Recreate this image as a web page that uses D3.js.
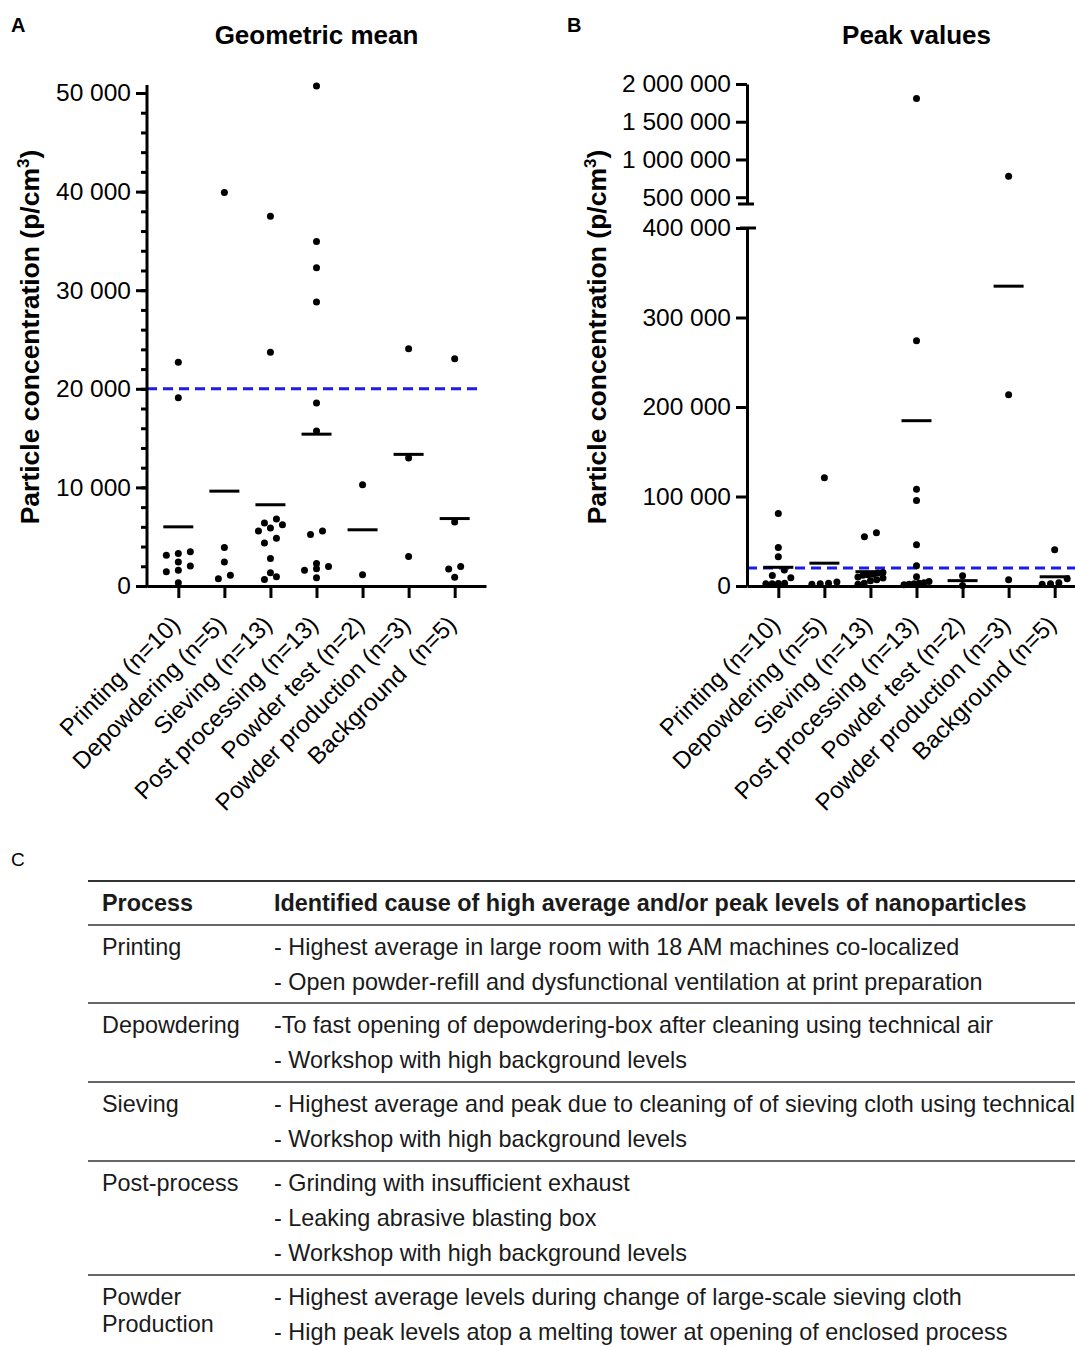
<!DOCTYPE html>
<html>
<head>
<meta charset="utf-8">
<script src="https://cdn.jsdelivr.net/npm/d3@7"></script>
<style>
body { margin: 0; background: #fff; }
text { font-family: "Liberation Sans", Arial, sans-serif; }
</style>
</head>
<body>
<div id="chart"></div>
<script>
// categories
const catsA = ["Printing (n=10)", "Depowdering (n=5)", "Sieving (n=13)", "Post processing (n=13)",
  "Powder test (n=2)", "Powder production (n=3)", "Background  (n=5)"]
const catsB = ["Printing (n=10)", "Depowdering (n=5)", "Sieving (n=13)", "Post processing (n=13)",
  "Powder test (n=2)", "Powder production (n=3)", "Background (n=5)"]

// panel A: geometric mean per measurement (p/cm3)
const geoValues = [
  [22700, 19100, 3480, 3300, 3130, 2440, 2030, 1590, 1450, 320],
  [39900, 3910, 2440, 1100, 730],
  [37500, 23700, 6800, 6390, 6220, 5870, 5570, 4850, 4360, 2790, 1350, 930, 660],
  [50700, 34950, 32270, 28810, 18560, 15720, 5570, 5220, 2270, 1970, 1760, 1590, 830],
  [10260, 1150],
  [24050, 12970, 2990],
  [23050, 6490, 1970, 1720, 900]
]
const geoMeans = [6000, 9620, 8240, 15400, 5700, 13350, 6840]

// panel B: peak values per measurement (p/cm3)
const peakValues = [
  [80900, 43100, 32600, 17900, 11800, 9200, 3000, 2800, 2600, 2400],
  [120900, 4500, 3000, 2500, 2000],
  [59400, 54900, 15000, 14500, 13000, 12500, 12000, 10000, 9000, 7000, 6000, 3000, 2000],
  [1808000, 273900, 108000, 95600, 46100, 22500, 10300, 5000, 3500, 3000, 2500, 2000, 1500],
  [11500, 500],
  [778000, 213700, 6900],
  [40600, 8000, 3500, 2500, 2000]
]
const peakMeans = [20900, 25500, 16000, 184700, 6000, 335000, 10300]

const limitValue = 20000

const ticksA = [0, 10000, 20000, 30000, 40000, 50000]
const ticksBLow = [0, 100000, 200000, 300000, 400000]
const ticksBHigh = [500000, 1000000, 1500000, 2000000]

// table
const tableHead = ["Process", "Identified cause of high average and/or peak levels of nanoparticles"]
const tableProcess = [["Printing"], ["Depowdering"], ["Sieving"], ["Post-process"], ["Powder", "Production"]]
const tableCauses = [
  ["- Highest average in large room with 18 AM machines co-localized",
   "- Open powder-refill and dysfunctional ventilation at print preparation"],
  ["-To fast opening of depowdering-box after cleaning using technical air",
   "- Workshop with high background levels"],
  ["- Highest average and peak due to cleaning of of sieving cloth using technical air",
   "- Workshop with high background levels"],
  ["- Grinding with insufficient exhaust",
   "- Leaking abrasive blasting box",
   "- Workshop with high background levels"],
  ["- Highest average levels during change of large-scale sieving cloth",
   "- High peak levels atop a melting tower at opening of enclosed process"]
]

const w = 1075
const h = 1346

const svg = d3.select("#chart")
  .append("svg")
  .attr("width", w)
  .attr("height", h)

const fmt = d3.formatLocale({decimal: ".", thousands: " ", grouping: [3], currency: ["", ""]}).format(",")
const blue = "#1c1ce8"
const tickFont = 24.5

// simple GraphPad-like scatter layout: group dots that sit on one row and spread them
const swarm = (vals, yFn) => {
  const pts = vals.map((v) => ({v: v, y: yFn(v)})).sort((a, b) => b.y - a.y)
  const rows = []
  pts.forEach((p) => {
    const last = rows[rows.length - 1]
    if (last && last[0].y - p.y < 6.6) last.push(p)
    else rows.push([p])
  })
  rows.forEach((r) => {
    const sp = r.length > 1 ? Math.min(12, 25 / (r.length - 1)) : 0
    r.forEach((p, i) => { p.dx = (i - (r.length - 1) / 2) * sp })
  })
  return pts
}

const styleAxis = (g, width) => {
  g.selectAll(".domain").attr("stroke-width", 3)
  g.selectAll(".tick line").attr("stroke-width", width || 3)
  g.selectAll(".tick text").attr("font-size", tickFont).attr("fill", "#000")
}

const drawPanel = (opt) => {
  const g = svg.append("g")
  const x = d3.scalePoint().domain(opt.cats).range([opt.x0, opt.x1]).padding(0.68)

  // x axis
  const gx = g.append("g")
    .attr("transform", `translate(0,${opt.base})`)
    .call(d3.axisBottom(x).tickSize(12).tickSizeOuter(0).tickFormat(""))
  styleAxis(gx)

  g.selectAll(".catlab")
    .data(opt.cats)
    .enter()
    .append("text")
    .attr("class", "catlab")
    .attr("transform", (d) => `translate(${x(d) + 3},${opt.base + 40}) rotate(-45)`)
    .attr("text-anchor", "end")
    .attr("font-size", 24)
    .style("white-space", "pre")
    .text((d) => d)

  // limit line
  g.append("line")
    .attr("x1", opt.x0).attr("x2", opt.dashEnd)
    .attr("y1", opt.yFn(limitValue)).attr("y2", opt.yFn(limitValue))
    .attr("stroke", blue).attr("stroke-width", 3).attr("stroke-dasharray", "10,6")

  // dots + mean lines
  opt.values.forEach((vals, i) => {
    const cx = x(opt.cats[i])
    g.selectAll(null)
      .data(swarm(vals, opt.yFn))
      .enter()
      .append("circle")
      .attr("cx", (d) => cx + d.dx)
      .attr("cy", (d) => d.y)
      .attr("r", 3.5)
      .attr("fill", "#000")
    g.append("line")
      .attr("x1", cx - 15).attr("x2", cx + 15)
      .attr("y1", opt.yFn(opt.means[i])).attr("y2", opt.yFn(opt.means[i]))
      .attr("stroke", "#000").attr("stroke-width", 3)
  })

  // titles
  g.append("text")
    .attr("x", (opt.x0 + opt.x1) / 2).attr("y", 44)
    .attr("text-anchor", "middle")
    .attr("font-size", 26).attr("font-weight", "bold")
    .text(opt.title)

  const yt = g.append("text")
    .attr("transform", `translate(${opt.titleX},337) rotate(-90)`)
    .attr("text-anchor", "middle")
    .attr("font-size", 26.5).attr("font-weight", "bold")
  yt.append("tspan").text("Particle concentration (p/cm")
  yt.append("tspan").attr("dy", -10).attr("font-size", 17).text("3")
  yt.append("tspan").attr("dy", 10).text(")")

  g.append("text")
    .attr("x", opt.letterX).attr("y", 32)
    .attr("font-size", 20).attr("font-weight", "bold")
    .text(opt.letter)
  return g
}

// ----- panel A -----
const yA = d3.scaleLinear().domain([0, 50000]).range([586, 93])
const gA = drawPanel({
  cats: catsA, x0: 147, x1: 486, base: 586, dashEnd: 480,
  yFn: yA, values: geoValues, means: geoMeans,
  title: "Geometric mean", titleX: 39, letter: "A", letterX: 11
})
const gAminor = gA.append("g").attr("transform", "translate(147,0)")
  .call(d3.axisLeft(yA).tickValues(d3.range(0, 50001, 2000)).tickSize(6).tickFormat(""))
gAminor.select(".domain").remove()
styleAxis(gAminor, 3)
const gAy = gA.append("g").attr("transform", "translate(147,0)")
  .call(d3.axisLeft(yA).tickValues(ticksA).tickSize(11).tickSizeOuter(0).tickPadding(5).tickFormat(fmt))
gAy.select(".domain").remove()
styleAxis(gAy)
gA.append("line")
  .attr("x1", 147).attr("x2", 147)
  .attr("y1", yA(0) + 1.5).attr("y2", yA(50800))
  .attr("stroke", "#000").attr("stroke-width", 3)

// ----- panel B (broken axis) -----
const yBLow = d3.scaleLinear().domain([0, 400000]).range([586, 228])
const yBHigh = d3.scaleLinear().domain([410000, 2000000]).range([204, 84])
const yB = (v) => v > 400000 ? yBHigh(v) : yBLow(v)
const gB = drawPanel({
  cats: catsB, x0: 747, x1: 1086, base: 586, dashEnd: 1086,
  yFn: yB, values: peakValues, means: peakMeans,
  title: "Peak values", titleX: 606, letter: "B", letterX: 567
})
const gBlow = gB.append("g").attr("transform", "translate(747,0)")
  .call(d3.axisLeft(yBLow).tickValues(ticksBLow).tickSize(11).tickSizeOuter(0).tickPadding(5).tickFormat(fmt))
styleAxis(gBlow)
const gBhigh = gB.append("g").attr("transform", "translate(747,0)")
  .call(d3.axisLeft(yBHigh).tickValues(ticksBHigh).tickSize(11).tickSizeOuter(0).tickPadding(5).tickFormat(fmt))
styleAxis(gBhigh)
// break caps
gB.append("line").attr("x1", 740).attr("x2", 756)
  .attr("y1", yBLow(400000)).attr("y2", yBLow(400000))
  .attr("stroke", "#000").attr("stroke-width", 3)
gB.append("line").attr("x1", 738).attr("x2", 754)
  .attr("y1", yBHigh(410000)).attr("y2", yBHigh(410000))
  .attr("stroke", "#000").attr("stroke-width", 3)

// ----- panel C table -----
const gC = svg.append("g")
gC.append("text").attr("x", 11).attr("y", 866).attr("font-size", 19).text("C")

const rowLines = [881, 925, 1003, 1082, 1161, 1275]
gC.selectAll(".rule")
  .data(rowLines)
  .enter()
  .append("line")
  .attr("x1", 88).attr("x2", w)
  .attr("y1", (d) => d).attr("y2", (d) => d)
  .attr("stroke", (d, i) => i === 0 ? "#333" : "#666")
  .attr("stroke-width", 2)

const colX = [102, 274]
const tableFont = 23.4
tableHead.forEach((t, i) => {
  gC.append("text").attr("x", colX[i]).attr("y", 911)
    .attr("font-size", tableFont).attr("font-weight", "bold").attr("fill", "#1a1a1a")
    .text(t)
})

const lineGap = 35
tableCauses.forEach((lines, r) => {
  const top = rowLines[r + 1] + 30
  tableProcess[r].forEach((t, k) => {
    gC.append("text").attr("x", colX[0]).attr("y", top + k * 27)
      .attr("font-size", tableFont).attr("fill", "#1a1a1a").text(t)
  })
  lines.forEach((t, k) => {
    gC.append("text").attr("x", colX[1]).attr("y", top + k * lineGap)
      .attr("font-size", tableFont).attr("fill", "#1a1a1a").text(t)
  })
})
</script>
</body>
</html>
